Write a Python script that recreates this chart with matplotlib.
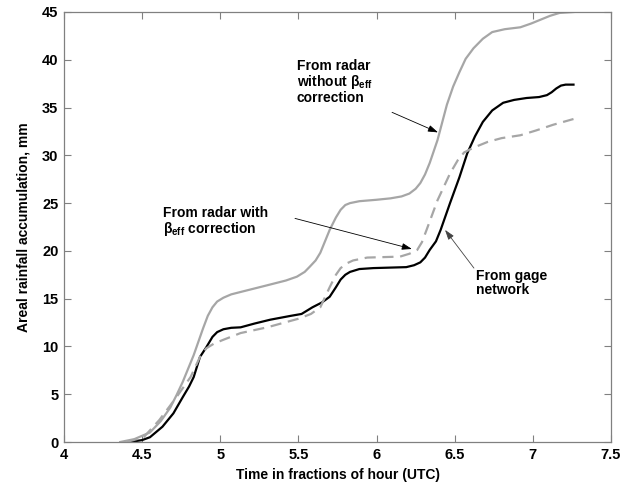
import matplotlib
matplotlib.use('Agg')
import matplotlib.pyplot as plt
from matplotlib.font_manager import FontProperties

plt.rcParams['font.family'] = ['Liberation Sans', 'DejaVu Sans']
plt.rcParams['font.weight'] = 'bold'
plt.rcParams['axes.labelweight'] = 'bold'
plt.rcParams['mathtext.fontset'] = 'custom'
plt.rcParams['mathtext.rm'] = 'Liberation Sans'
plt.rcParams['mathtext.it'] = 'Liberation Sans'
plt.rcParams['mathtext.bf'] = 'Liberation Sans:bold'

# radar estimate without beta_eff correction
t_radar_raw = [4.36, 4.45, 4.55, 4.62, 4.68, 4.72, 4.76, 4.80, 4.83, 4.86, 4.89, 4.92,
               4.95, 4.98, 5.02, 5.07, 5.13, 5.30, 5.42, 5.49, 5.54, 5.57, 5.61, 5.64,
               5.67, 5.70, 5.74, 5.77, 5.80, 5.83, 5.89, 6.00, 6.09, 6.16, 6.21, 6.25,
               6.28, 6.31, 6.34, 6.39, 6.45, 6.49, 6.53, 6.57, 6.62, 6.68, 6.74, 6.82,
               6.92, 6.99, 7.05, 7.11, 7.17, 7.26]
acc_radar_raw = [0.0, 0.3, 1.0, 2.2, 3.6, 4.9, 6.3, 7.9, 9.1, 10.5, 11.9, 13.2,
                 14.1, 14.7, 15.1, 15.45, 15.7, 16.4, 16.9, 17.3, 17.8, 18.3, 19.0, 19.8,
                 21.0, 22.2, 23.5, 24.3, 24.8, 25.0, 25.2, 25.35, 25.5, 25.7, 26.0, 26.5,
                 27.1, 28.0, 29.2, 31.6, 35.3, 37.2, 38.7, 40.1, 41.2, 42.2, 42.9, 43.2,
                 43.4, 43.8, 44.2, 44.6, 44.9, 45.0]

# gage network
t_gage = [4.42, 4.50, 4.55, 4.63, 4.70, 4.76, 4.80, 4.83, 4.87, 4.91, 4.95, 4.98,
          5.02, 5.07, 5.13, 5.22, 5.32, 5.45, 5.52, 5.59, 5.65, 5.70, 5.74, 5.77,
          5.80, 5.83, 5.89, 5.98, 6.19, 6.24, 6.28, 6.31, 6.34, 6.38, 6.41, 6.47,
          6.53, 6.58, 6.63, 6.68, 6.74, 6.81, 6.88, 6.96, 7.04, 7.09, 7.12, 7.15,
          7.18, 7.21, 7.26]
acc_gage = [0.0, 0.2, 0.5, 1.6, 3.0, 4.7, 5.8, 6.8, 8.9, 9.9, 11.0, 11.5,
            11.8, 11.95, 12.0, 12.4, 12.8, 13.2, 13.4, 14.1, 14.6, 15.2, 16.2, 17.0,
            17.5, 17.8, 18.1, 18.2, 18.3, 18.5, 18.8, 19.3, 20.1, 21.0, 22.2, 25.0,
            27.7, 30.2, 32.0, 33.5, 34.7, 35.5, 35.8, 36.0, 36.1, 36.3, 36.6, 37.0,
            37.3, 37.4, 37.4]

# radar estimate with beta_eff correction
t_radar_corr = [4.40, 4.51, 4.61, 4.72, 4.81, 4.87, 4.91, 4.96, 5.02, 5.13, 5.30, 5.50,
                5.58, 5.64, 5.70, 5.74, 5.77, 5.81, 5.85, 5.94, 6.15, 6.21, 6.26, 6.29,
                6.32, 6.39, 6.47, 6.52, 6.56, 6.62, 6.71, 6.80, 6.92, 7.02, 7.13, 7.26]
acc_radar_corr = [0.0, 0.5, 2.3, 4.7, 6.8, 8.9, 9.8, 10.3, 10.7, 11.4, 12.0, 12.9,
                  13.4, 14.1, 16.2, 17.5, 18.2, 18.7, 19.0, 19.3, 19.4, 19.7, 20.1, 20.9,
                  22.2, 25.3, 28.1, 29.5, 30.3, 30.8, 31.4, 31.8, 32.1, 32.6, 33.2, 33.8]

x_ticks = [4, 4.5, 5, 5.5, 6, 6.5, 7, 7.5]
x_tick_labels = ['4', '4.5', '5', '5.5', '6', '6.5', '7', '7.5']
y_ticks = [0, 5, 10, 15, 20, 25, 30, 35, 40, 45]

tick_font = FontProperties(family='Liberation Sans', weight='bold', size=10.5)
label_font = FontProperties(family='Liberation Sans', weight='bold', size=10)

fig = plt.figure(figsize=(6.33, 4.88), dpi=100)
ax = fig.add_axes([64 / 633, 46 / 488, 547 / 633, 430 / 488])

ax.plot(t_radar_raw, acc_radar_raw, color='#a6a6a6', lw=1.6)
ax.plot(t_gage, acc_gage, color='black', lw=1.6)
ax.plot(t_radar_corr, acc_radar_corr, color='#a6a6a6', lw=1.6, dashes=(5, 3))

ax.set_xlim(4, 7.5)
ax.set_ylim(0, 45)
ax.set_xticks(x_ticks)
ax.set_xticklabels(x_tick_labels, fontproperties=tick_font)
ax.set_yticks(y_ticks)
ax.set_yticklabels([str(v) for v in y_ticks], fontproperties=tick_font)
ax.tick_params(direction='in', top=True, right=True, length=5, width=0.8,
               color='#808080', pad=4)
for s in ax.spines.values():
    s.set_color('#808080')
    s.set_linewidth(0.9)

ax.set_xlabel('Time in fractions of hour (UTC)', fontproperties=label_font, labelpad=5)
ax.set_ylabel('Areal rainfall accumulation, mm', fontproperties=label_font, labelpad=8)

txt = dict(fontsize=10, fontweight='bold', va='top', ha='left', linespacing=1.0)
ax.text(5.49, 40.1, 'From radar\nwithout $\\beta_{\\mathbf{eff}}$\ncorrection', **txt)
ax.text(4.633, 24.7, 'From radar with\n$\\beta_{\\mathbf{eff}}$ correction', **txt)
ax.text(6.636, 18.1, 'From gage\nnetwork', **txt)

arrow = dict(arrowstyle='-|>,head_length=0.6,head_width=0.2', lw=0.6, color='black',
             shrinkA=0, shrinkB=0)
ax.annotate('', xy=(6.393, 32.4), xytext=(6.099, 34.5), arrowprops=arrow)
ax.annotate('', xy=(6.226, 20.2), xytext=(5.478, 23.4), arrowprops=arrow)
ax.annotate('', xy=(6.438, 22.2), xytext=(6.623, 18.2),
            arrowprops=dict(arrow, color='#444444'))

fig.savefig('out.png', dpi=100)
